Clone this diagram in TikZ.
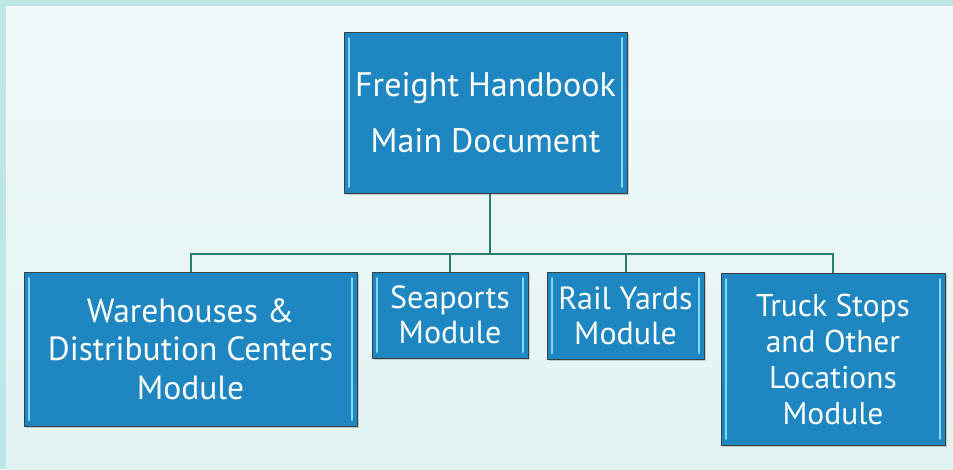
\documentclass[tikz,border=0pt]{standalone}
\usepackage{fontspec}
\setmainfont{PT Sans}
\usetikzlibrary{shadows}
\definecolor{framecol}{HTML}{BDE8E7}
\definecolor{paneltop}{HTML}{F0FAF9}
\definecolor{panelbot}{HTML}{E2F3F3}
\definecolor{boxblue}{HTML}{1E86C1}
\definecolor{boxedge}{HTML}{3A3F42}
\definecolor{bevel}{HTML}{86D6F6}
\definecolor{linkcol}{HTML}{2B7D6F}
\tikzset{
  module/.style={draw=boxedge, line width=1pt, fill=boxblue, text=white,
    align=center, inner sep=0pt,
    drop shadow={shadow xshift=1.5pt, shadow yshift=-1.5pt, opacity=.35},
    path picture={
      \draw[bevelline] ([shift={(5pt,-6pt)}]path picture bounding box.north west)
        -- ([shift={(5pt,6pt)}]path picture bounding box.south west);
      \draw[bevelline] ([shift={(-5pt,-6pt)}]path picture bounding box.north east)
        -- ([shift={(-5pt,6pt)}]path picture bounding box.south east);
    }},
  bevelline/.style={draw=bevel, line width=2pt, line cap=round},
  link/.style={draw=linkcol, line width=2pt},
}
\begin{document}
\begin{tikzpicture}[x=1pt,y=-1pt]
	
	%background
	\fill[framecol] (0,0) rectangle (953,469);
	\shade[top color=paneltop, bottom color=panelbot] (6,6) rectangle (953,469);
	\useasboundingbox (0,0) rectangle (953,469);
	%main document
	\node[module, minimum width=283pt, minimum height=161pt,
	  font=\fontsize{34}{56}\selectfont] (main) at (485.5,112.5)
	  {Freight Handbook\\Main Document};
	%modules
	\node[module, minimum width=333pt, minimum height=154pt,
	  font=\fontsize{33.5}{38.5}\selectfont] (ware) at (190.5,349)
	  {Warehouses \&\\Distribution Centers\\Module};
	\node[module, minimum width=156pt, minimum height=86pt,
	  font=\fontsize{32}{35}\selectfont] (sea) at (450,315)
	  {Seaports\\Module};
	\node[module, minimum width=157pt, minimum height=87pt,
	  font=\fontsize{32}{35}\selectfont] (rail) at (625.5,315.5)
	  {Rail Yards\\Module};
	\node[module, minimum width=224pt, minimum height=172pt,
	  font=\fontsize{31.5}{36}\selectfont] (truck) at (833,359)
	  {Truck Stops\\and Other\\Locations\\Module};
	%connectors
	\coordinate (bus) at (490,254);
	\draw[link] (bus |- main.south) -- (bus);
	\foreach \m in {ware,sea,rail,truck}
	  \draw[link] (\m.north) |- (bus);
	\end{tikzpicture}
\end{document}
